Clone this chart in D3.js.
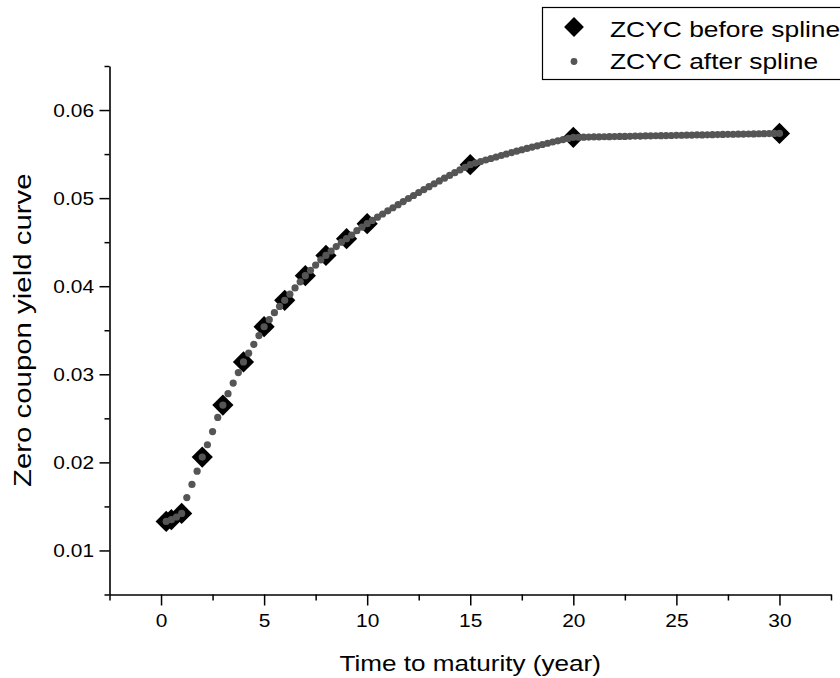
<!DOCTYPE html>
<html>
<head>
<meta charset="utf-8">
<script src="https://cdn.jsdelivr.net/npm/d3@7"></script>
<style>
  body { margin: 0; background: #fff; }
  text { font-family: "Liberation Sans", Arial, Helvetica, sans-serif; fill: #000; }
</style>
</head>
<body>
<svg id="chart" width="840" height="678"></svg>
<script>
// Observed zero coupon yields (before spline)
const maturities = [0.25, 0.5, 1, 2, 3, 4, 5, 6, 7, 8, 9, 10, 15, 20, 30];
const yieldsBefore = [0.0133, 0.0135, 0.0142, 0.0206, 0.0265, 0.0314, 0.0354, 0.0384,
                      0.0412, 0.0435, 0.0454, 0.0471, 0.0538, 0.0569, 0.05735];

// Quarterly grid of the smoothed curve (after spline)
const splineMaturities = [
  0.25, 0.5, 0.75, 1, 1.25, 1.5, 1.75, 2,
  2.25, 2.5, 2.75, 3, 3.25, 3.5, 3.75, 4,
  4.25, 4.5, 4.75, 5, 5.25, 5.5, 5.75, 6,
  6.25, 6.5, 6.75, 7, 7.25, 7.5, 7.75, 8,
  8.25, 8.5, 8.75, 9, 9.25, 9.5, 9.75, 10,
  10.25, 10.5, 10.75, 11, 11.25, 11.5, 11.75, 12,
  12.25, 12.5, 12.75, 13, 13.25, 13.5, 13.75, 14,
  14.25, 14.5, 14.75, 15, 15.25, 15.5, 15.75, 16,
  16.25, 16.5, 16.75, 17, 17.25, 17.5, 17.75, 18,
  18.25, 18.5, 18.75, 19, 19.25, 19.5, 19.75, 20,
  20.25, 20.5, 20.75, 21, 21.25, 21.5, 21.75, 22,
  22.25, 22.5, 22.75, 23, 23.25, 23.5, 23.75, 24,
  24.25, 24.5, 24.75, 25, 25.25, 25.5, 25.75, 26,
  26.25, 26.5, 26.75, 27, 27.25, 27.5, 27.75, 28,
  28.25, 28.5, 28.75, 29, 29.25, 29.5, 29.75, 30
];
const yieldsAfter = [
  0.0133, 0.0135, 0.0138, 0.0142, 0.0160, 0.0175, 0.0190, 0.0206,
  0.0220, 0.0235, 0.0251, 0.0265, 0.0278, 0.0290, 0.0302, 0.0314,
  0.0324, 0.0334, 0.0344, 0.0354, 0.0362, 0.0370, 0.0377, 0.0384,
  0.0391, 0.0398, 0.0405, 0.0412, 0.0418, 0.0424, 0.0430, 0.0435,
  0.0440, 0.0445, 0.0450, 0.0454, 0.0458, 0.0463, 0.0467, 0.0471,
  0.04747, 0.04784, 0.04820, 0.04856, 0.04891, 0.04926, 0.04961, 0.04996,
  0.05030, 0.05064, 0.05097, 0.05130, 0.05163, 0.05195, 0.05227, 0.05258,
  0.05289, 0.05320, 0.05350, 0.05380, 0.05398, 0.05416, 0.05433, 0.05450,
  0.05467, 0.05484, 0.05501, 0.05517, 0.05533, 0.05549, 0.05564, 0.05579,
  0.05594, 0.05609, 0.05623, 0.05637, 0.05651, 0.05665, 0.05678, 0.05690,
  0.05691, 0.05692, 0.05693, 0.05695, 0.05696, 0.05697, 0.05698, 0.05699,
  0.05700, 0.05701, 0.05702, 0.05704, 0.05705, 0.05706, 0.05707, 0.05708,
  0.05709, 0.05710, 0.05711, 0.05713, 0.05714, 0.05715, 0.05716, 0.05717,
  0.05718, 0.05719, 0.05720, 0.05722, 0.05723, 0.05724, 0.05725, 0.05726,
  0.05727, 0.05728, 0.05729, 0.05731, 0.05732, 0.05733, 0.05734, 0.05735
];

// Axis ticks
const xMajorTicks = [0, 5, 10, 15, 20, 25, 30];
const xMinorTicks = [-2.5, 2.5, 7.5, 12.5, 17.5, 22.5, 27.5, 32.5];
const yMajorTicks = [0.01, 0.02, 0.03, 0.04, 0.05, 0.06];
const yMinorTicks = [0.005, 0.015, 0.025, 0.035, 0.045, 0.055, 0.065];

const legendLabels = ["ZCYC before spline", "ZCYC after spline"];
const xTitle = "Time to maturity (year)";
const yTitle = "Zero coupon yield curve";

const svg = d3.select("#chart");

const x = d3.scaleLinear().domain([-2.5, 32.5]).range([109.5, 831]);
const y = d3.scaleLinear().domain([0.005, 0.065]).range([594.5, 66]);

const stretch = 1.1;
const lineColor = "#000";
const splineColor = "#555555";

function styleAxis(g) {
  g.attr("font-size", null).attr("font-family", null);
  g.selectAll(".domain").attr("stroke", lineColor).attr("stroke-width", 1.6);
  g.selectAll(".tick line").attr("stroke", lineColor).attr("stroke-width", 1.5);
}

// Minor ticks
svg.append("g")
  .attr("transform", `translate(0,${y.range()[0]})`)
  .call(d3.axisBottom(x).tickValues(xMinorTicks).tickSize(6).tickFormat(""))
  .call(styleAxis)
  .call(g => g.select(".domain").remove());

svg.append("g")
  .attr("transform", `translate(${x.range()[0]},0)`)
  .call(d3.axisLeft(y).tickValues(yMinorTicks).tickSize(5).tickFormat(""))
  .call(styleAxis)
  .call(g => g.select(".domain").remove());

// Major axes
const xAxis = svg.append("g")
  .attr("transform", `translate(0,${y.range()[0]})`)
  .call(d3.axisBottom(x).tickValues(xMajorTicks).tickSize(11).tickSizeOuter(0)
    .tickPadding(8).tickFormat(d3.format("d")))
  .call(styleAxis);
xAxis.selectAll(".tick text")
  .attr("font-size", 19)
  .attr("transform", `scale(${stretch},1)`);

const yAxis = svg.append("g")
  .attr("transform", `translate(${x.range()[0]},0)`)
  .call(d3.axisLeft(y).tickValues(yMajorTicks).tickSize(10).tickSizeOuter(0)
    .tickFormat(d3.format(".2f")))
  .call(styleAxis);
yAxis.selectAll(".tick text")
  .attr("font-size", 19)
  .attr("x", -15.5 / stretch)
  .attr("transform", `scale(${stretch},1)`);

// Axis titles
svg.append("text")
  .attr("transform", `translate(${(x.range()[0] + x.range()[1]) / 2},671) scale(1.16,1)`)
  .attr("text-anchor", "middle")
  .attr("font-size", 22.5)
  .text(xTitle);

svg.append("text")
  .attr("transform", `translate(31,${(y.range()[0] + y.range()[1]) / 2}) rotate(-90) scale(1.2,1)`)
  .attr("text-anchor", "middle")
  .attr("font-size", 24.5)
  .text(yTitle);

// Markers
const diamond = d3.symbol().type(d3.symbolSquare).size(15 * 15);
const before = maturities.map((t, i) => ({ t, v: yieldsBefore[i] }));
const after = splineMaturities.map((t, i) => ({ t, v: yieldsAfter[i] }));

svg.append("g").selectAll("path")
  .data(before)
  .join("path")
  .attr("d", diamond)
  .attr("transform", d => `translate(${x(d.t)},${y(d.v)}) rotate(45)`)
  .attr("fill", "#000");

svg.append("g").selectAll("circle")
  .data(after)
  .join("circle")
  .attr("cx", d => x(d.t))
  .attr("cy", d => y(d.v))
  .attr("r", 3.6)
  .attr("fill", splineColor);

// Legend
const legend = svg.append("g");
legend.append("rect")
  .attr("x", 542.5).attr("y", 7.5)
  .attr("width", 330).attr("height", 72)
  .attr("fill", "#fff")
  .attr("stroke", "#000").attr("stroke-width", 1.2);

legend.append("path")
  .attr("d", d3.symbol().type(d3.symbolSquare).size(14 * 14))
  .attr("transform", "translate(574,27) rotate(45)")
  .attr("fill", "#000");
legend.append("circle")
  .attr("cx", 574).attr("cy", 61.5).attr("r", 3.4)
  .attr("fill", splineColor);

legend.selectAll("text")
  .data(legendLabels)
  .join("text")
  .attr("transform", (d, i) => `translate(610,${i === 0 ? 36.5 : 68.5}) scale(1.2,1)`)
  .attr("font-size", 22)
  .text(d => d);
</script>
</body>
</html>
